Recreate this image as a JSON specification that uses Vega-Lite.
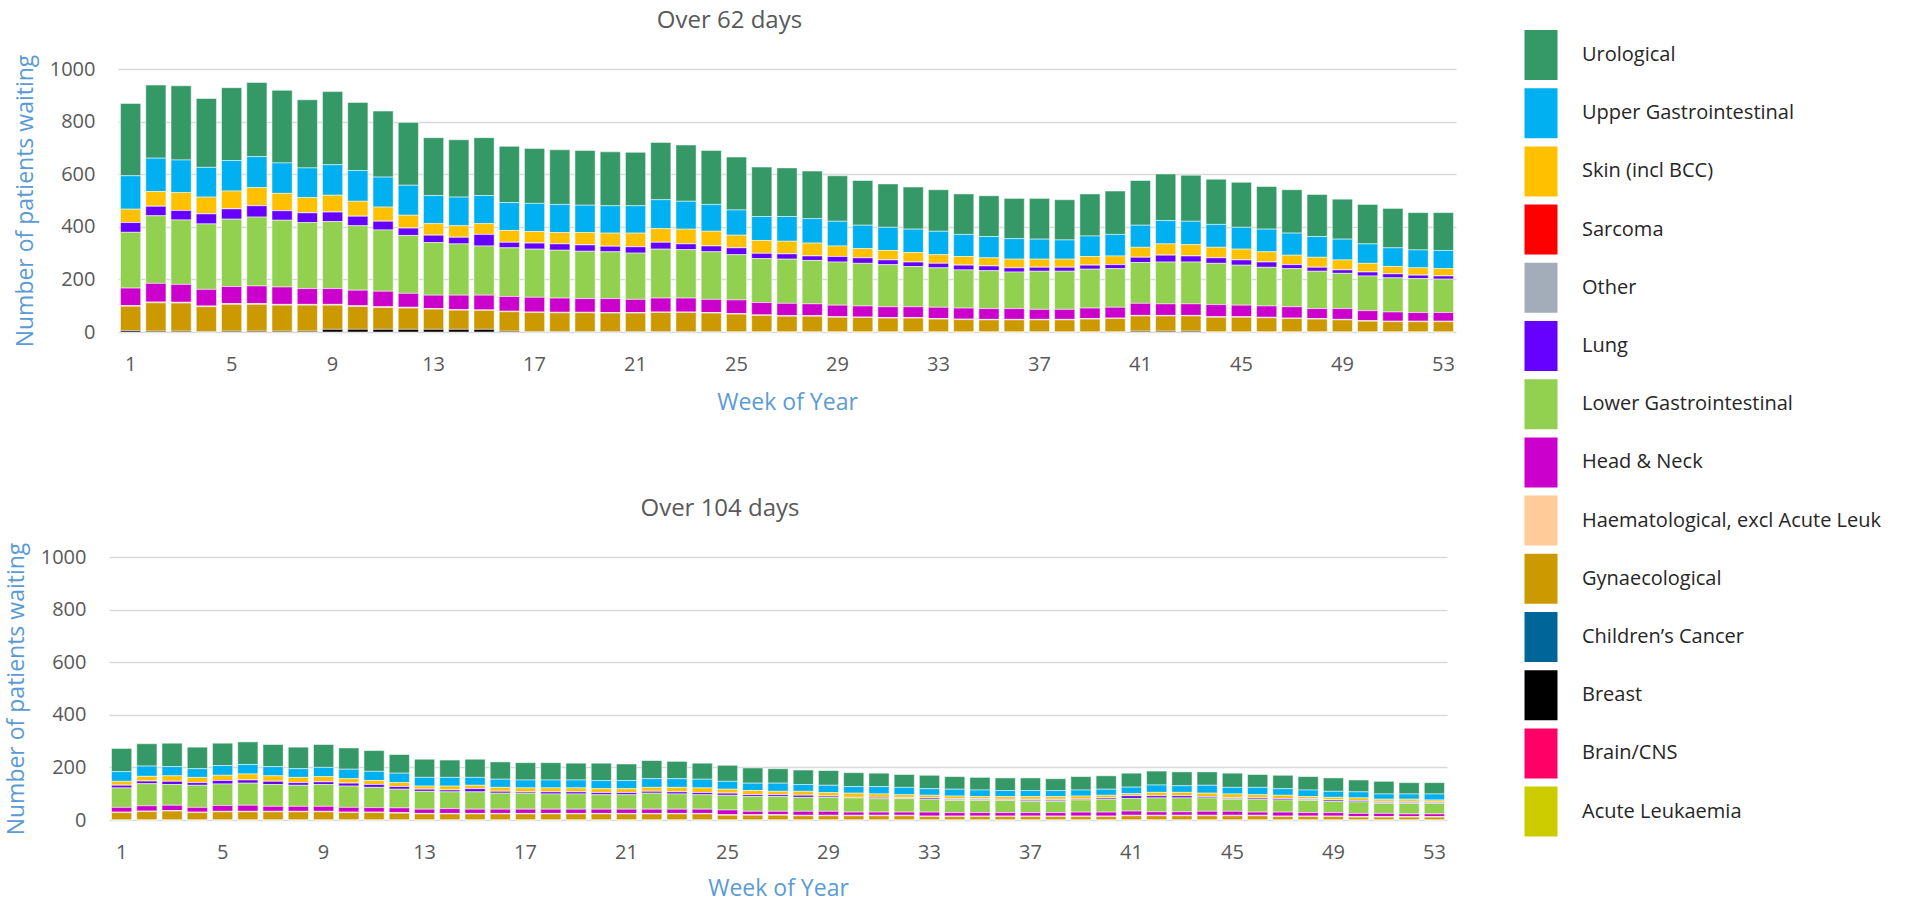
{
  "$schema": "https://vega.github.io/schema/vega-lite/v6.json",
  "background": "white",
  "padding": {"left": 5, "top": 9, "right": 0, "bottom": 6},
  "spacing": 83,
  "config": {
    "font": "Open Sans",
    "view": {"stroke": null},
    "title": {"font": "Open Sans", "fontSize": 24, "fontWeight": "normal", "color": "#595959", "offset": 21},
    "axis": {
      "labelFont": "Open Sans", "titleFont": "Open Sans", "labelFontSize": 20, "labelColor": "#595959",
      "titleFontSize": 23, "titleFontWeight": "normal", "titleColor": "#5B9BD5",
      "ticks": false, "domain": false
    },
    "axisX": {"labelAngle": 0, "labelPadding": 22, "titlePadding": 17, "grid": false},
    "axisY": {"grid": true, "gridColor": "#D9D9D9", "gridWidth": 1.5, "labelPadding": 23, "titlePadding": 12, "format": "d"}
  },
  "datasets": {
    "cats": [
      {"k": "uro", "cat": "Urological", "rank": 14},
      {"k": "ugi", "cat": "Upper Gastrointestinal", "rank": 13},
      {"k": "skin", "cat": "Skin (incl BCC)", "rank": 12},
      {"k": "sarc", "cat": "Sarcoma", "rank": 11},
      {"k": "oth", "cat": "Other", "rank": 10},
      {"k": "lung", "cat": "Lung", "rank": 9},
      {"k": "lgi", "cat": "Lower Gastrointestinal", "rank": 8},
      {"k": "hn", "cat": "Head & Neck", "rank": 7},
      {"k": "haem", "cat": "Haematological, excl Acute Leuk", "rank": 6},
      {"k": "gyn", "cat": "Gynaecological", "rank": 5},
      {"k": "ch", "cat": "Children’s Cancer", "rank": 4},
      {"k": "br", "cat": "Breast", "rank": 3},
      {"k": "cns", "cat": "Brain/CNS", "rank": 2},
      {"k": "al", "cat": "Acute Leukaemia", "rank": 1}
    ],
    "d62": [
      {"w":1,"uro":275,"ugi":127,"skin":51,"oth":0,"lung":37,"lgi":212,"hn":67,"haem":2,"gyn":93,"br":5},
      {"w":2,"uro":278,"ugi":127,"skin":56,"oth":0,"lung":36,"lgi":257,"hn":71,"haem":3,"gyn":108,"br":3},
      {"w":3,"uro":282,"ugi":124,"skin":68,"oth":0,"lung":36,"lgi":245,"hn":68,"haem":3,"gyn":107,"br":3},
      {"w":4,"uro":262,"ugi":113,"skin":64,"oth":0,"lung":38,"lgi":249,"hn":63,"haem":3,"gyn":95,"br":1},
      {"w":5,"uro":277,"ugi":116,"skin":68,"oth":0,"lung":39,"lgi":256,"hn":65,"haem":3,"gyn":102,"br":3},
      {"w":6,"uro":282,"ugi":118,"skin":69,"oth":0,"lung":43,"lgi":262,"hn":67,"haem":3,"gyn":102,"br":3},
      {"w":7,"uro":276,"ugi":116,"skin":66,"oth":0,"lung":36,"lgi":254,"hn":66,"haem":3,"gyn":99,"br":3},
      {"w":8,"uro":259,"ugi":113,"skin":58,"oth":0,"lung":37,"lgi":251,"hn":60,"haem":3,"gyn":99,"br":3},
      {"w":9,"uro":278,"ugi":116,"skin":64,"oth":0,"lung":36,"lgi":255,"hn":60,"haem":3,"gyn":92,"br":10},
      {"w":10,"uro":259,"ugi":117,"skin":57,"oth":0,"lung":36,"lgi":245,"hn":59,"haem":3,"gyn":87,"br":10},
      {"w":11,"uro":251,"ugi":114,"skin":54,"oth":0,"lung":33,"lgi":233,"hn":59,"haem":3,"gyn":83,"br":10},
      {"w":12,"uro":239,"ugi":114,"skin":49,"oth":0,"lung":28,"lgi":220,"hn":53,"haem":3,"gyn":81,"br":10},
      {"w":13,"uro":220,"ugi":107,"skin":44,"oth":0,"lung":28,"lgi":200,"hn":51,"haem":2,"gyn":77,"br":10},
      {"w":14,"uro":218,"ugi":109,"skin":44,"oth":0,"lung":25,"lgi":195,"hn":55,"haem":2,"gyn":73,"br":10},
      {"w":15,"uro":220,"ugi":107,"skin":41,"oth":0,"lung":44,"lgi":187,"hn":56,"haem":2,"gyn":72,"br":10},
      {"w":16,"uro":214,"ugi":106,"skin":45,"oth":0,"lung":21,"lgi":185,"hn":56,"haem":2,"gyn":74,"br":3},
      {"w":17,"uro":209,"ugi":107,"skin":44,"oth":0,"lung":23,"lgi":183,"hn":56,"haem":2,"gyn":73,"br":1},
      {"w":18,"uro":208,"ugi":107,"skin":43,"oth":0,"lung":24,"lgi":182,"hn":54,"haem":2,"gyn":72,"br":1},
      {"w":19,"uro":208,"ugi":104,"skin":47,"oth":0,"lung":24,"lgi":180,"hn":52,"haem":2,"gyn":72,"br":1},
      {"w":20,"uro":205,"ugi":104,"skin":50,"oth":0,"lung":21,"lgi":178,"hn":53,"haem":2,"gyn":71,"br":1},
      {"w":21,"uro":203,"ugi":104,"skin":52,"oth":0,"lung":24,"lgi":176,"hn":50,"haem":2,"gyn":71,"br":1},
      {"w":22,"uro":218,"ugi":110,"skin":52,"oth":0,"lung":26,"lgi":186,"hn":53,"haem":2,"gyn":73,"br":1},
      {"w":23,"uro":214,"ugi":106,"skin":56,"oth":0,"lung":22,"lgi":184,"hn":53,"haem":2,"gyn":73,"br":1},
      {"w":24,"uro":205,"ugi":102,"skin":56,"oth":0,"lung":22,"lgi":181,"hn":50,"haem":2,"gyn":71,"br":1},
      {"w":25,"uro":201,"ugi":96,"skin":48,"oth":0,"lung":26,"lgi":172,"hn":52,"haem":2,"gyn":68,"br":0},
      {"w":26,"uro":188,"ugi":91,"skin":49,"oth":0,"lung":20,"lgi":167,"hn":47,"haem":2,"gyn":63,"br":0},
      {"w":27,"uro":185,"ugi":94,"skin":48,"oth":0,"lung":20,"lgi":168,"hn":47,"haem":2,"gyn":60,"br":0},
      {"w":28,"uro":181,"ugi":93,"skin":49,"oth":0,"lung":17,"lgi":165,"hn":45,"haem":2,"gyn":60,"br":0},
      {"w":29,"uro":173,"ugi":94,"skin":40,"oth":0,"lung":21,"lgi":164,"hn":44,"haem":2,"gyn":56,"br":0},
      {"w":30,"uro":170,"ugi":89,"skin":35,"oth":0,"lung":21,"lgi":162,"hn":42,"haem":2,"gyn":55,"br":0},
      {"w":31,"uro":165,"ugi":88,"skin":36,"oth":0,"lung":18,"lgi":160,"hn":41,"haem":2,"gyn":53,"br":0},
      {"w":32,"uro":160,"ugi":89,"skin":36,"oth":0,"lung":17,"lgi":153,"hn":41,"haem":2,"gyn":53,"br":0},
      {"w":33,"uro":158,"ugi":89,"skin":33,"oth":0,"lung":17,"lgi":150,"hn":43,"haem":2,"gyn":49,"br":0},
      {"w":34,"uro":154,"ugi":84,"skin":33,"oth":0,"lung":18,"lgi":145,"hn":42,"haem":2,"gyn":47,"br":0},
      {"w":35,"uro":155,"ugi":81,"skin":31,"oth":0,"lung":18,"lgi":144,"hn":41,"haem":2,"gyn":46,"br":0},
      {"w":36,"uro":153,"ugi":78,"skin":33,"oth":0,"lung":16,"lgi":139,"hn":41,"haem":2,"gyn":46,"br":0},
      {"w":37,"uro":155,"ugi":76,"skin":31,"oth":0,"lung":15,"lgi":145,"hn":38,"haem":2,"gyn":46,"br":0},
      {"w":38,"uro":153,"ugi":73,"skin":31,"oth":0,"lung":15,"lgi":145,"hn":38,"haem":2,"gyn":46,"br":0},
      {"w":39,"uro":160,"ugi":78,"skin":33,"oth":0,"lung":15,"lgi":148,"hn":40,"haem":2,"gyn":49,"br":0},
      {"w":40,"uro":165,"ugi":82,"skin":33,"oth":0,"lung":15,"lgi":147,"hn":41,"haem":2,"gyn":51,"br":0},
      {"w":41,"uro":170,"ugi":84,"skin":38,"oth":0,"lung":20,"lgi":155,"hn":46,"haem":2,"gyn":58,"br":3},
      {"w":42,"uro":177,"ugi":89,"skin":43,"oth":0,"lung":26,"lgi":159,"hn":44,"haem":2,"gyn":58,"br":3},
      {"w":43,"uro":175,"ugi":89,"skin":43,"oth":0,"lung":23,"lgi":159,"hn":44,"haem":2,"gyn":58,"br":3},
      {"w":44,"uro":172,"ugi":87,"skin":40,"oth":0,"lung":21,"lgi":157,"hn":46,"haem":2,"gyn":56,"br":0},
      {"w":45,"uro":171,"ugi":83,"skin":41,"oth":0,"lung":20,"lgi":152,"hn":44,"haem":2,"gyn":56,"br":0},
      {"w":46,"uro":162,"ugi":86,"skin":39,"oth":0,"lung":20,"lgi":147,"hn":43,"haem":2,"gyn":54,"br":0},
      {"w":47,"uro":165,"ugi":84,"skin":36,"oth":0,"lung":15,"lgi":145,"hn":43,"haem":2,"gyn":51,"br":0},
      {"w":48,"uro":160,"ugi":79,"skin":38,"oth":0,"lung":15,"lgi":142,"hn":38,"haem":2,"gyn":49,"br":0},
      {"w":49,"uro":152,"ugi":79,"skin":38,"oth":0,"lung":13,"lgi":134,"hn":41,"haem":2,"gyn":46,"br":0},
      {"w":50,"uro":150,"ugi":74,"skin":33,"oth":0,"lung":15,"lgi":132,"hn":38,"haem":2,"gyn":41,"br":0},
      {"w":51,"uro":150,"ugi":71,"skin":28,"oth":0,"lung":15,"lgi":130,"hn":35,"haem":2,"gyn":39,"br":0},
      {"w":52,"uro":142,"ugi":68,"skin":28,"oth":0,"lung":13,"lgi":129,"hn":33,"haem":2,"gyn":39,"br":0},
      {"w":53,"uro":144,"ugi":69,"skin":28,"oth":0,"lung":12,"lgi":127,"hn":33,"haem":2,"gyn":39,"br":0}
    ],
    "d104": [
      {"w":1,"uro":88,"ugi":37,"skin":15,"oth":0,"lung":10,"lgi":74,"hn":18,"haem":2,"gyn":28,"br":0},
      {"w":2,"uro":85,"ugi":39,"skin":18,"oth":0,"lung":10,"lgi":84,"hn":20,"haem":2,"gyn":32,"br":0},
      {"w":3,"uro":89,"ugi":35,"skin":21,"oth":0,"lung":12,"lgi":79,"hn":20,"haem":2,"gyn":34,"br":0},
      {"w":4,"uro":82,"ugi":33,"skin":20,"oth":0,"lung":10,"lgi":84,"hn":18,"haem":2,"gyn":28,"br":0},
      {"w":5,"uro":85,"ugi":37,"skin":20,"oth":0,"lung":13,"lgi":82,"hn":22,"haem":2,"gyn":31,"br":0},
      {"w":6,"uro":86,"ugi":36,"skin":23,"oth":0,"lung":12,"lgi":84,"hn":23,"haem":2,"gyn":31,"br":0},
      {"w":7,"uro":84,"ugi":35,"skin":21,"oth":0,"lung":12,"lgi":83,"hn":19,"haem":2,"gyn":31,"br":0},
      {"w":8,"uro":82,"ugi":33,"skin":20,"oth":0,"lung":10,"lgi":80,"hn":19,"haem":2,"gyn":31,"br":0},
      {"w":9,"uro":87,"ugi":35,"skin":20,"oth":0,"lung":10,"lgi":83,"hn":19,"haem":2,"gyn":31,"br":0},
      {"w":10,"uro":81,"ugi":36,"skin":17,"oth":0,"lung":11,"lgi":81,"hn":18,"haem":2,"gyn":28,"br":0},
      {"w":11,"uro":79,"ugi":35,"skin":15,"oth":0,"lung":11,"lgi":77,"hn":17,"haem":2,"gyn":28,"br":0},
      {"w":12,"uro":71,"ugi":36,"skin":15,"oth":0,"lung":10,"lgi":71,"hn":18,"haem":2,"gyn":26,"br":0},
      {"w":13,"uro":69,"ugi":33,"skin":12,"oth":0,"lung":8,"lgi":68,"hn":16,"haem":2,"gyn":23,"br":0},
      {"w":14,"uro":66,"ugi":33,"skin":15,"oth":0,"lung":7,"lgi":64,"hn":18,"haem":2,"gyn":23,"br":0},
      {"w":15,"uro":69,"ugi":30,"skin":13,"oth":0,"lung":12,"lgi":66,"hn":16,"haem":2,"gyn":23,"br":0},
      {"w":16,"uro":66,"ugi":31,"skin":15,"oth":0,"lung":7,"lgi":61,"hn":16,"haem":2,"gyn":23,"br":0},
      {"w":17,"uro":66,"ugi":30,"skin":15,"oth":0,"lung":5,"lgi":61,"hn":16,"haem":2,"gyn":23,"br":0},
      {"w":18,"uro":66,"ugi":30,"skin":15,"oth":0,"lung":8,"lgi":58,"hn":16,"haem":2,"gyn":23,"br":0},
      {"w":19,"uro":64,"ugi":30,"skin":15,"oth":0,"lung":8,"lgi":58,"hn":16,"haem":2,"gyn":23,"br":0},
      {"w":20,"uro":66,"ugi":31,"skin":15,"oth":0,"lung":8,"lgi":55,"hn":16,"haem":2,"gyn":23,"br":0},
      {"w":21,"uro":63,"ugi":31,"skin":15,"oth":0,"lung":8,"lgi":55,"hn":16,"haem":2,"gyn":23,"br":0},
      {"w":22,"uro":69,"ugi":33,"skin":15,"oth":0,"lung":7,"lgi":61,"hn":16,"haem":2,"gyn":23,"br":0},
      {"w":23,"uro":66,"ugi":33,"skin":17,"oth":0,"lung":8,"lgi":58,"hn":16,"haem":2,"gyn":23,"br":0},
      {"w":24,"uro":61,"ugi":33,"skin":18,"oth":0,"lung":8,"lgi":55,"hn":16,"haem":2,"gyn":23,"br":0},
      {"w":25,"uro":61,"ugi":30,"skin":15,"oth":0,"lung":8,"lgi":56,"hn":18,"haem":2,"gyn":18,"br":0},
      {"w":26,"uro":58,"ugi":28,"skin":16,"oth":0,"lung":7,"lgi":56,"hn":13,"haem":2,"gyn":18,"br":0},
      {"w":27,"uro":55,"ugi":31,"skin":13,"oth":0,"lung":7,"lgi":56,"hn":13,"haem":2,"gyn":18,"br":0},
      {"w":28,"uro":55,"ugi":26,"skin":15,"oth":0,"lung":8,"lgi":53,"hn":15,"haem":2,"gyn":16,"br":0},
      {"w":29,"uro":56,"ugi":28,"skin":13,"oth":0,"lung":5,"lgi":53,"hn":15,"haem":2,"gyn":16,"br":0},
      {"w":30,"uro":53,"ugi":25,"skin":16,"oth":0,"lung":2,"lgi":54,"hn":12,"haem":2,"gyn":16,"br":0},
      {"w":31,"uro":51,"ugi":28,"skin":13,"oth":0,"lung":5,"lgi":51,"hn":12,"haem":2,"gyn":16,"br":0},
      {"w":32,"uro":49,"ugi":28,"skin":10,"oth":3,"lung":2,"lgi":51,"hn":12,"haem":2,"gyn":16,"br":0},
      {"w":33,"uro":51,"ugi":25,"skin":10,"oth":0,"lung":5,"lgi":49,"hn":15,"haem":2,"gyn":13,"br":0},
      {"w":34,"uro":48,"ugi":26,"skin":10,"oth":4,"lung":3,"lgi":46,"hn":13,"haem":2,"gyn":13,"br":0},
      {"w":35,"uro":48,"ugi":25,"skin":8,"oth":4,"lung":3,"lgi":46,"hn":13,"haem":2,"gyn":13,"br":0},
      {"w":36,"uro":48,"ugi":23,"skin":10,"oth":2,"lung":3,"lgi":46,"hn":13,"haem":2,"gyn":13,"br":0},
      {"w":37,"uro":48,"ugi":23,"skin":10,"oth":4,"lung":4,"lgi":43,"hn":13,"haem":2,"gyn":13,"br":0},
      {"w":38,"uro":45,"ugi":23,"skin":10,"oth":4,"lung":4,"lgi":43,"hn":13,"haem":2,"gyn":13,"br":0},
      {"w":39,"uro":51,"ugi":23,"skin":12,"oth":0,"lung":3,"lgi":46,"hn":15,"haem":2,"gyn":13,"br":0},
      {"w":40,"uro":51,"ugi":23,"skin":10,"oth":0,"lung":5,"lgi":49,"hn":15,"haem":2,"gyn":13,"br":0},
      {"w":41,"uro":53,"ugi":25,"skin":8,"oth":0,"lung":10,"lgi":48,"hn":16,"haem":2,"gyn":16,"br":0},
      {"w":42,"uro":53,"ugi":28,"skin":13,"oth":0,"lung":8,"lgi":53,"hn":13,"haem":2,"gyn":16,"br":0},
      {"w":43,"uro":53,"ugi":25,"skin":13,"oth":0,"lung":8,"lgi":53,"hn":13,"haem":2,"gyn":16,"br":0},
      {"w":44,"uro":51,"ugi":30,"skin":13,"oth":0,"lung":5,"lgi":51,"hn":15,"haem":2,"gyn":16,"br":0},
      {"w":45,"uro":54,"ugi":25,"skin":13,"oth":4,"lung":3,"lgi":46,"hn":15,"haem":2,"gyn":16,"br":0},
      {"w":46,"uro":49,"ugi":28,"skin":12,"oth":0,"lung":5,"lgi":49,"hn":12,"haem":2,"gyn":16,"br":0},
      {"w":47,"uro":51,"ugi":25,"skin":13,"oth":0,"lung":5,"lgi":46,"hn":15,"haem":2,"gyn":13,"br":0},
      {"w":48,"uro":51,"ugi":25,"skin":8,"oth":4,"lung":3,"lgi":46,"hn":13,"haem":2,"gyn":13,"br":0},
      {"w":49,"uro":51,"ugi":23,"skin":10,"oth":0,"lung":5,"lgi":43,"hn":13,"haem":2,"gyn":13,"br":0},
      {"w":50,"uro":45,"ugi":23,"skin":10,"oth":0,"lung":5,"lgi":44,"hn":12,"haem":2,"gyn":11,"br":0},
      {"w":51,"uro":48,"ugi":20,"skin":8,"oth":5,"lung":3,"lgi":38,"hn":12,"haem":2,"gyn":11,"br":0},
      {"w":52,"uro":43,"ugi":20,"skin":8,"oth":5,"lung":3,"lgi":40,"hn":10,"haem":2,"gyn":11,"br":0},
      {"w":53,"uro":43,"ugi":23,"skin":7,"oth":3,"lung":3,"lgi":40,"hn":10,"haem":2,"gyn":11,"br":0}
    ]
  },
  "resolve": {"scale": {"color": "shared"}},
  "vconcat": [
    {
      "data": {"name": "d62"},
      "transform": [
        {"fold": ["uro","ugi","skin","oth","lung","lgi","hn","haem","gyn","br"], "as": ["k","n"]},
        {"lookup": "k", "from": {"data": {"name": "cats"}, "key": "k", "fields": ["cat","rank"]}}
      ],
      "title": {"text": "Over 62 days", "dx": -53},
      "width": 1347,
      "height": 263,
      "mark": {"type": "bar", "stroke": "white", "strokeWidth": 1, "strokeOpacity": 0.5},
      "encoding": {
        "x": {"field": "w", "type": "ordinal", "scale": {"range": [9, 1347], "paddingInner": 0.2, "paddingOuter": 0.1},
              "axis": {"title": "Week of Year", "values": [1,5,9,13,17,21,25,29,33,37,41,45,49,53]}},
        "y": {"field": "n", "type": "quantitative", "stack": "zero", "scale": {"domain": [0, 1000]},
              "axis": {"title": "Number of patients waiting", "values": [0,200,400,600,800,1000], "offset": -9}},
        "color": {"field": "cat", "type": "nominal",
          "scale": {
            "domain": ["Urological","Upper Gastrointestinal","Skin (incl BCC)","Sarcoma","Other","Lung","Lower Gastrointestinal","Head & Neck","Haematological, excl Acute Leuk","Gynaecological","Children’s Cancer","Breast","Brain/CNS","Acute Leukaemia"],
            "range": ["#349966","#00B0F0","#FFC000","#FF0000","#A2ADB9","#6600FF","#92D050","#CC00CC","#FFCC99","#CC9900","#006699","#000000","#FF0066","#CCCC00"]
          },
          "legend": {
            "title": null, "orient": "none", "legendX": 1407, "legendY": -39,
            "symbolType": "M-0.66,-1H0.66V1H-0.66Z", "symbolSize": 2500,
            "symbolStrokeWidth": 0, "symbolStrokeColor": "transparent", "symbolOpacity": 1,
            "labelFont": "Open Sans", "labelFontSize": 20, "labelColor": "#262626",
            "labelOffset": 16, "rowPadding": 8.2, "labelLimit": 400
          }
        },
        "order": {"field": "rank", "type": "quantitative"}
      }
    },
    {
      "data": {"name": "d104"},
      "transform": [
        {"fold": ["uro","ugi","skin","oth","lung","lgi","hn","haem","gyn","br"], "as": ["k","n"]},
        {"lookup": "k", "from": {"data": {"name": "cats"}, "key": "k", "fields": ["cat","rank"]}}
      ],
      "title": {"text": "Over 104 days", "dx": -58},
      "width": 1338,
      "height": 263,
      "mark": {"type": "bar", "stroke": "white", "strokeWidth": 1, "strokeOpacity": 0.5},
      "encoding": {
        "x": {"field": "w", "type": "ordinal", "scale": {"paddingInner": 0.2, "paddingOuter": 0.1},
              "axis": {"title": "Week of Year", "titlePadding": 15, "values": [1,5,9,13,17,21,25,29,33,37,41,45,49,53]}},
        "y": {"field": "n", "type": "quantitative", "stack": "zero", "scale": {"domain": [0, 1000]},
              "axis": {"title": "Number of patients waiting", "values": [0,200,400,600,800,1000]}},
        "color": {"field": "cat", "type": "nominal"},
        "order": {"field": "rank", "type": "quantitative"}
      }
    }
  ]
}
